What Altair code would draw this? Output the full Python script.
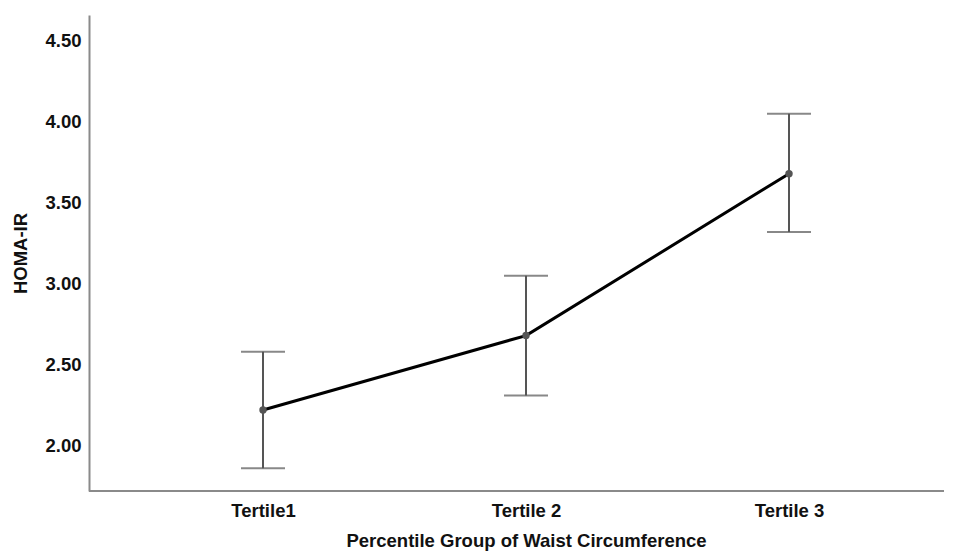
import altair as alt
import pandas as pd

categories = ["Tertile1", "Tertile 2", "Tertile 3"]
means = [2.22, 2.68, 3.68]
lower = [1.86, 2.31, 3.32]
upper = [2.58, 3.05, 4.05]

df = pd.DataFrame({"group": categories, "mean": means, "lo": lower, "hi": upper})

W, H = 855, 476
FONT = "Liberation Sans"
AX = "#8a8a8a"
EB = "#555555"
FS = 18.5

x = alt.X("group:N", sort=categories,
          scale=alt.Scale(type="point", domain=categories, range=[174, 700], padding=0),
          axis=alt.Axis(title="Percentile Group of Waist Circumference", labelAngle=0,
                        domain=False, ticks=False, grid=False,
                        labelFont=FONT, labelFontSize=FS, labelFontWeight="bold", labelColor="#111",
                        labelPadding=10,
                        titleFont=FONT, titleFontSize=FS, titleFontWeight="bold", titleColor="#111",
                        titlePadding=12, titleX=437))

yscale = alt.Scale(domain=[1.72, 4.66], nice=False, zero=False)
yaxis = alt.Axis(title="HOMA-IR", values=[2.0, 2.5, 3.0, 3.5, 4.0, 4.5], format=".2f",
                 ticks=False, grid=False, domainColor=AX, domainWidth=2,
                 labelFont=FONT, labelFontSize=FS, labelFontWeight="bold", labelColor="#111",
                 labelPadding=8,
                 titleFont=FONT, titleFontSize=FS, titleFontWeight="bold", titleColor="#111",
                 titlePadding=14)

base = alt.Chart(df)

xline = base.mark_rule(color=AX, strokeWidth=2).encode(
    y=alt.value(H), x=alt.value(0), x2=alt.value(W))

bars = base.mark_rule(color=EB, strokeWidth=2).encode(
    x=x, y=alt.Y("lo:Q", scale=yscale, axis=yaxis), y2="hi:Q")

cap_lo = base.mark_tick(color=EB, thickness=2, size=44).encode(
    x=x, y=alt.Y("lo:Q", scale=yscale))
cap_hi = base.mark_tick(color=EB, thickness=2, size=44).encode(
    x=x, y=alt.Y("hi:Q", scale=yscale))

line = base.mark_line(color="#000000", strokeWidth=3).encode(
    x=x, y=alt.Y("mean:Q", scale=yscale))

pts = base.mark_circle(color="#555555", opacity=1, size=55).encode(
    x=x, y=alt.Y("mean:Q", scale=yscale))

chart = alt.layer(xline, bars, cap_lo, cap_hi, line, pts).properties(
    width=W, height=H,
    autosize=alt.AutoSizeParams(type="none"),
    padding={"left": 81, "top": 7, "right": 0, "bottom": 60},
    background="white",
).configure_view(stroke=None)

chart.save("out.html", embed_options={"renderer": "svg", "actions": False})
